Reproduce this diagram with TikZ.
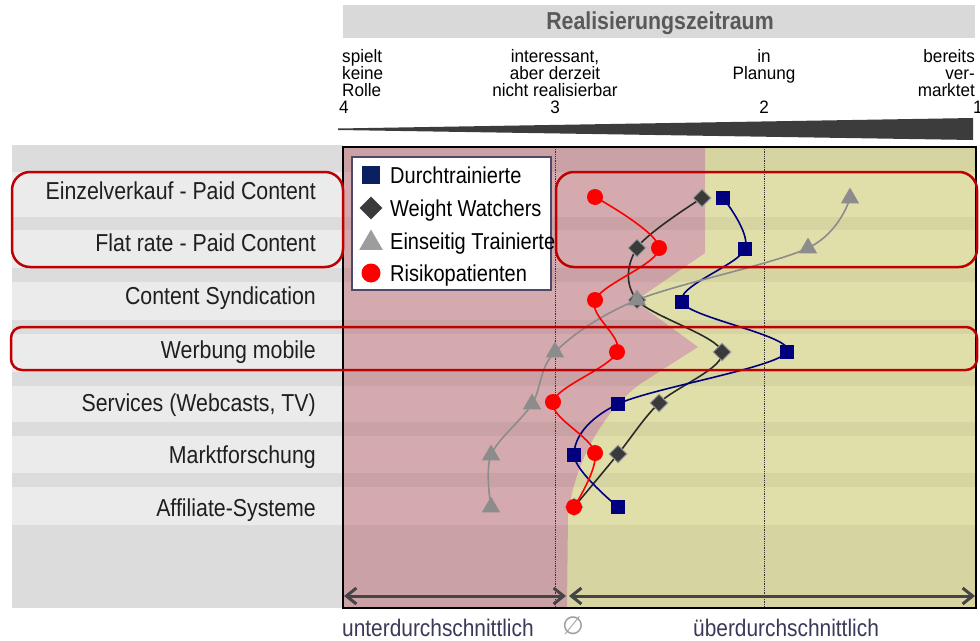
\documentclass[tikz,border=0pt]{standalone}
\usepackage{fontspec}
\setmainfont{Liberation Sans}
\newfontfamily\cond[FakeStretch=0.87]{Liberation Sans}
\newfontfamily\condax[FakeStretch=0.95]{Liberation Sans}
\newfontfamily\symfnt{DejaVu Sans}
\usetikzlibrary{arrows.meta,shapes.geometric}
\definecolor{pinkbg}{HTML}{D4AAAE}
\definecolor{yellowbg}{HTML}{E0DFAA}
\definecolor{panelL}{HTML}{EBEBEB}
\definecolor{panelD}{HTML}{DCDCDC}
\definecolor{hdr}{HTML}{D9D9D9}
\definecolor{hdrtxt}{HTML}{595959}
\definecolor{navyc}{HTML}{00007F}
\definecolor{legnavy}{HTML}{0B2060}
\definecolor{wwc}{HTML}{3A3A3A}
\definecolor{wwline}{HTML}{2A2A2A}
\definecolor{etc}{HTML}{8C8C8C}
\definecolor{rkc}{HTML}{FF0000}
\definecolor{boxred}{HTML}{C00000}
\definecolor{arrowc}{HTML}{454545}
\definecolor{bottomtxt}{HTML}{3A3A58}
\definecolor{legborder}{HTML}{4A4A6A}
\definecolor{wedgec}{HTML}{3C3C3C}
\begin{document}
\begin{tikzpicture}[x=1pt,y=-1pt,
  axlbl/.style={font=\condax\fontsize{18}{17}\selectfont, inner sep=0pt, text=black},
  catlbl/.style={font=\cond\fontsize{24.5}{26}\selectfont, inner sep=0pt, anchor=base east, text=black!88},
  leglbl/.style={font=\cond\fontsize{23}{25}\selectfont, inner sep=0pt, anchor=base west, text=black},
  botlbl/.style={font=\cond\fontsize{24}{26}\selectfont, inner sep=0pt, anchor=base west, text=bottomtxt},
  sqm/.style={rectangle, fill=navyc, minimum size=14pt, inner sep=0pt},
  dmm/.style={diamond, fill=wwc, draw=gray!75, line width=1pt, minimum size=18pt, inner sep=0pt},
  trm/.style={regular polygon, regular polygon sides=3, fill=etc, minimum size=21pt, inner sep=0pt},
  cim/.style={circle, fill=rkc, minimum size=16pt, inner sep=0pt},
  serie/.style={line width=1.6pt, smooth, tension=0.55},
  hlbox/.style={draw=boxred, line width=2.5pt},
  barrow/.style={arrowc, line width=3pt, {Straight Barb[length=10pt,width=16pt]}-{Straight Barb[length=10pt,width=16pt]}}
]
\useasboundingbox (0,0) rectangle (980,640);
\fill[white] (0,0) rectangle (980,640);

% header
\fill[hdr] (343,5) rectangle (975,38);
\node[font=\bfseries\cond\fontsize{24.5}{26}\selectfont, text=hdrtxt, inner sep=0pt, anchor=base] (hdr) at (660,29) {Realisierungszeitraum};

% axis labels
\node[axlbl, anchor=base west] (a4a) at (342,62) {spielt};
\node[axlbl, anchor=base west] (a4b) at (342,79) {keine};
\node[axlbl, anchor=base west] (a4c) at (342,96) {Rolle};
\node[axlbl, anchor=base west] (a4n) at (339,113) {4};
\node[axlbl, anchor=base] (a3a) at (555,62) {interessant,};
\node[axlbl, anchor=base] (a3b) at (555,79) {aber derzeit};
\node[axlbl, anchor=base] (a3c) at (555,96) {nicht realisierbar};
\node[axlbl, anchor=base] (a3n) at (555,113) {3};
\node[axlbl, anchor=base] (a2a) at (764,62) {in};
\node[axlbl, anchor=base] (a2b) at (764,79) {Planung};
\node[axlbl, anchor=base] (a2n) at (764,113) {2};
\node[axlbl, anchor=base east] (a1a) at (975,62) {bereits};
\node[axlbl, anchor=base east] (a1b) at (975,79) {ver-};
\node[axlbl, anchor=base east] (a1c) at (975,96) {marktet};
\node[axlbl, anchor=base west] (a1n) at (973,113) {1};

% wedge
\fill[wedgec] (338,128.5) -- (973,118) -- (973,140) -- (338,130) -- cycle;

% left panel
\fill[panelL] (12,145) rectangle (343,608);
\foreach \a/\b in {145/172, 217/230, 268/282, 320/334, 372/386, 422/436, 473/487, 525/608}
  \fill[panelD] (12,\a) rectangle (343,\b);

% plot background
\fill[yellowbg] (343,147) rectangle (976,608);
\fill[pinkbg] (343,147) -- (705,147) -- (705,253) -- (635,301) -- (698,347) -- (640,384)
  .. controls (605,410) and (575,460) .. (568,515) -- (567,608) -- (343,608) -- cycle;
\foreach \a/\b in {147/172, 217/230, 268/282, 320/334, 372/386, 422/436, 473/487, 525/608}
  \fill[black, opacity=0.045] (343,\a) rectangle (976,\b);
\draw[densely dotted, line width=0.8pt, black!80] (555,147) -- (555,608);
\draw[densely dotted, line width=0.8pt, black!80] (764,147) -- (764,608);

% categories
\node[catlbl] (c1) at (316,199) {Einzelverkauf - Paid Content};
\node[catlbl] (c2) at (316,251) {Flat rate - Paid Content};
\node[catlbl] (c3) at (316,304) {Content Syndication};
\node[catlbl] (c4) at (316,358) {Werbung mobile};
\node[catlbl] (c5) at (316,411) {Services (Webcasts, TV)};
\node[catlbl] (c6) at (316,463) {Marktforschung};
\node[catlbl] (c7) at (316,516) {Affiliate-Systeme};

% data coordinates
\coordinate (D1) at (723,198); \coordinate (D2) at (745,249); \coordinate (D3) at (682,302);
\coordinate (D4) at (787,352); \coordinate (D5) at (618,404); \coordinate (D6) at (574,455);
\coordinate (D7) at (618,507);
\coordinate (W1) at (702,198); \coordinate (W2) at (637,248); \coordinate (W3) at (637,300);
\coordinate (W4) at (722,352); \coordinate (W5) at (659,403); \coordinate (W6) at (618,454);
\coordinate (W7) at (574,507);
\coordinate (E1) at (850,198); \coordinate (E2) at (808,248); \coordinate (E3) at (637,300);
\coordinate (E4) at (555,352); \coordinate (E5) at (532,404); \coordinate (E6) at (491,455);
\coordinate (E7) at (491,507);
\coordinate (R1) at (595,197); \coordinate (R2) at (659,248); \coordinate (R3) at (595,300);
\coordinate (R4) at (617,352); \coordinate (R5) at (553,402); \coordinate (R6) at (595,453);
\coordinate (R7) at (574,507);

% series lines
\draw[serie, wwline] plot coordinates {(W1) (W2) (W3) (W4) (W5) (W6) (W7)};
\draw[serie, navyc] plot coordinates {(D1) (D2) (D3) (D4) (D5) (D6) (D7)};
\draw[serie, etc] plot coordinates {(E1) (E2) (E3) (E4) (E5) (E6) (E7)};
\draw[serie, rkc] plot coordinates {(R1) (R2) (R3) (R4) (R5) (R6) (R7)};

% markers
\foreach \i in {1,...,7} \node[dmm] (mW\i) at (W\i) {};
\foreach \i in {1,...,7} \node[sqm] (mD\i) at (D\i) {};
\foreach \i in {1,...,7} \node[trm] (mE\i) at (E\i) {};
\foreach \i in {1,...,7} \node[cim] (mR\i) at (R\i) {};

% frame
\draw[black, line width=1.2pt] (343,147) rectangle (976,608);

% legend
\draw[legborder, fill=white, line width=1.5pt] (352,157) rectangle (551,290);
\node[rectangle, fill=legnavy, minimum size=18pt, inner sep=0pt] (lD) at (371,175) {};
\node[diamond, fill=wwc, minimum size=23pt, inner sep=0pt] (lW) at (371,208) {};
\node[regular polygon, regular polygon sides=3, fill=etc!85, minimum size=27pt, inner sep=0pt] (lE) at (371,243) {};
\node[circle, fill=rkc, minimum size=19pt, inner sep=0pt] (lR) at (371,273) {};
\node[leglbl] (tD) at (390,183) {Durchtrainierte};
\node[leglbl] (tW) at (390,216) {Weight Watchers};
\node[leglbl] (tE) at (390,249) {Einseitig Trainierte};
\node[leglbl] (tR) at (390,281) {Risikopatienten};

% highlight boxes
\draw[hlbox, rounded corners=18pt] (12,172) rectangle (343,267);
\draw[hlbox, rounded corners=18pt] (556,172) rectangle (977,267);
\draw[hlbox, rounded corners=11pt] (11,327) rectangle (977,370);

% bottom arrows
\coordinate (la) at (344,596); \coordinate (lb) at (566,596);
\coordinate (ra) at (569,596); \coordinate (rb) at (975,596);
\draw[barrow] (la) -- (lb);
\draw[barrow] (ra) -- (rb);

% bottom labels
\node[botlbl] (bu) at (342,636) {unterdurchschnittlich};
\node[font=\symfnt\fontsize{25}{27}\selectfont, text=gray!75, inner sep=0pt, anchor=center] (bo) at (573,626) {∅};
\node[botlbl] (bue) at (693,636) {überdurchschnittlich};
\end{tikzpicture}
\end{document}
